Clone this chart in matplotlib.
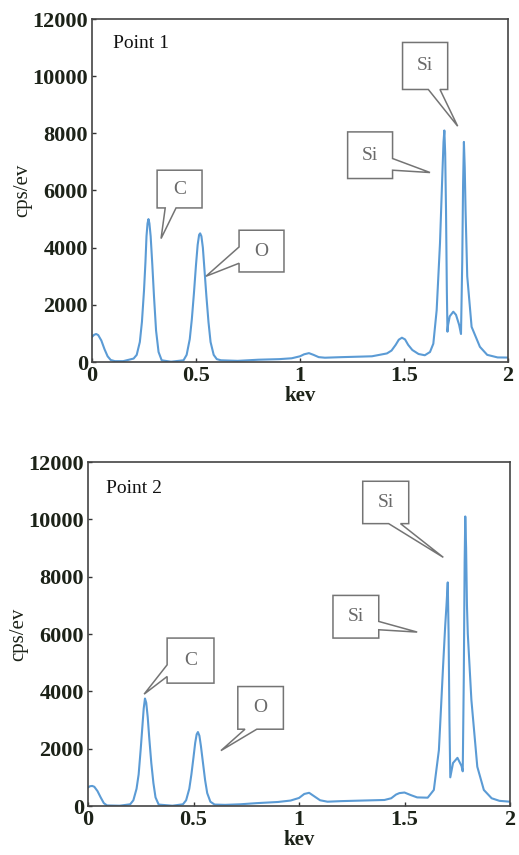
"""EDS spectra of two points: counts per eV vs energy, with peak callouts."""

import matplotlib

matplotlib.use("Agg")
import matplotlib.pyplot as plt
from matplotlib.patches import Polygon

plt.rcParams["font.family"] = ["Liberation Serif", "DejaVu Serif"]

# ---- data (keV, cps/eV) ----
kev_p1 = [0.00, 0.01, 0.02, 0.03, 0.045, 0.06, 0.075, 0.09, 0.11, 0.15, 0.20, 0.215,
          0.23, 0.24, 0.25, 0.257, 0.262, 0.267, 0.2715, 0.276, 0.282, 0.29, 0.298,
          0.308, 0.32, 0.335, 0.38, 0.44, 0.455, 0.47, 0.48, 0.49, 0.50, 0.508, 0.515,
          0.52, 0.526, 0.533, 0.54, 0.55, 0.56, 0.57, 0.585, 0.60, 0.62, 0.70, 0.80,
          0.90, 0.96, 1.00, 1.02, 1.043, 1.065, 1.09, 1.12, 1.20, 1.30, 1.346, 1.418,
          1.44, 1.46, 1.475, 1.49, 1.505, 1.52, 1.54, 1.57, 1.60, 1.625, 1.641, 1.657,
          1.673, 1.684, 1.690, 1.694, 1.698, 1.702, 1.706, 1.709, 1.712, 1.72, 1.737,
          1.75, 1.765, 1.774, 1.780, 1.784, 1.788, 1.792, 1.796, 1.804, 1.825, 1.865,
          1.90, 1.95, 2.00]
cps_p1 = [880, 950, 980, 940, 750, 450, 200, 70, 30, 30, 120, 250,
          700, 1400, 2500, 3500, 4400, 4850, 5000, 4850, 4400, 3400, 2300,
          1100, 350, 60, 10, 60, 250, 800, 1500, 2400, 3400, 4100, 4450,
          4500, 4400, 4000, 3300, 2300, 1400, 700, 250, 100, 60, 40, 80,
          100, 130, 200, 270, 310, 250, 170, 150, 170, 190, 200, 300,
          400, 600, 780, 850, 790, 600, 420, 280, 236, 350, 640, 1810,
          4150, 6475, 7700, 8100, 7300, 5300, 2500, 1060, 1300, 1600, 1760,
          1650, 1300, 980, 3500, 6200, 7700, 6800, 5300, 3000, 1230, 530,
          250, 160, 155]

kev_p2 = [0.00, 0.01, 0.02, 0.03, 0.045, 0.06, 0.075, 0.09, 0.15, 0.20, 0.215, 0.23,
          0.24, 0.25, 0.258, 0.264, 0.27, 0.276, 0.283, 0.29, 0.30, 0.31, 0.32, 0.335,
          0.40, 0.45, 0.465, 0.48, 0.49, 0.50, 0.508, 0.515, 0.521, 0.528, 0.535, 0.545,
          0.555, 0.565, 0.58, 0.60, 0.65, 0.722, 0.80, 0.90, 0.96, 1.00, 1.025, 1.048,
          1.07, 1.10, 1.135, 1.20, 1.30, 1.405, 1.437, 1.46, 1.476, 1.50, 1.53, 1.56,
          1.61, 1.639, 1.663, 1.671, 1.683, 1.693, 1.699, 1.705, 1.709, 1.713, 1.717,
          1.73, 1.751, 1.77, 1.776, 1.781, 1.785, 1.788, 1.792, 1.796, 1.80, 1.817,
          1.845, 1.876, 1.913, 1.95, 2.00]
cps_p2 = [650, 690, 700, 670, 520, 300, 100, 20, 10, 60, 200, 600,
          1100, 2000, 2800, 3400, 3750, 3600, 3100, 2400, 1500, 800, 300, 50,
          10, 60, 200, 600, 1100, 1700, 2200, 2500, 2580, 2450, 2100, 1500,
          900, 450, 150, 50, 40, 60, 100, 140, 190, 280, 420, 460,
          350, 200, 150, 170, 190, 210, 270, 400, 450, 470, 380, 300,
          290, 560, 1950, 3120, 4900, 6300, 7000, 7800, 6000, 3000, 1000,
          1500, 1680, 1400, 1210, 4500, 8500, 10100, 9000, 7000, 6000, 3700,
          1370, 560, 270, 180, 150]

# callouts: label, box (x0, x1, y0, y1), tail side, tail base (two coords along side), tip
callouts_p1 = [
    ("C", (0.313, 0.529, 5390, 6710), "bottom", (0.352, 0.404), (0.332, 4319)),
    ("O", (0.707, 0.923, 3150, 4610), "left", (4025, 3455), (0.548, 3000)),
    ("Si", (1.493, 1.710, 9534, 11179), "bottom", (1.617, 1.673), (1.758, 8250)),
    ("Si", (1.229, 1.445, 6419, 8050), "right", (7119, 6710), (1.625, 6629)),
]
callouts_p2 = [
    ("C", (0.375, 0.597, 4286, 5858), "left", (4925, 4517), (0.266, 3902)),
    ("O", (0.710, 0.926, 2679, 4167), "bottom", (0.744, 0.800), (0.630, 1932)),
    ("Si", (1.302, 1.520, 9850, 11328), "bottom", (1.425, 1.481), (1.684, 8673)),
    ("Si", (1.161, 1.378, 5858, 7346), "right", (6438, 6148), (1.560, 6067)),
]

LINE = "#5b9bd5"
BOX = "#747474"
INK = "#1c2218"


def callout_shape(box, side, base, tip):
    x0, x1, y0, y1 = box
    a, b = base
    if side == "bottom":
        return [(x0, y0), (a, y0), tip, (b, y0), (x1, y0), (x1, y1), (x0, y1)]
    if side == "left":
        return [(x0, y1), (x0, a), tip, (x0, b), (x0, y0), (x1, y0), (x1, y1)]
    return [(x1, y0), (x1, b), tip, (x1, a), (x1, y1), (x0, y1), (x0, y0)]


def draw_panel(ax, kev, cps, callouts, name, name_pos):
    ax.plot(kev, cps, color=LINE, lw=1.5, zorder=2, solid_joinstyle="round")
    ax.set_xlim(0, 2)
    ax.set_ylim(0, 12000)
    ax.set_xticks([0, 0.5, 1, 1.5, 2], labels=["0", "0.5", "1", "1.5", "2"])
    ax.set_yticks(range(0, 12001, 2000))
    ax.tick_params(direction="in", length=3, width=1, color="#333",
                   labelsize=16, labelcolor=INK, pad=3)
    for lab in ax.get_xticklabels() + ax.get_yticklabels():
        lab.set_fontweight("bold")
    for s in ax.spines.values():
        s.set_color("#444")
        s.set_linewidth(1.2)
    ax.set_xlabel("kev", fontsize=15, fontweight="bold", color=INK, labelpad=0)
    ax.set_ylabel("cps/ev", fontsize=15, color=INK, labelpad=0)
    ax.text(name_pos[0], name_pos[1], name, fontsize=14, color="#111", va="baseline")
    for label, box, side, base, tip in callouts:
        poly = Polygon(callout_shape(box, side, base, tip), closed=True,
                       facecolor="white", edgecolor=BOX, lw=1.1, zorder=3)
        ax.add_patch(poly)
        ax.text((box[0] + box[1]) / 2, (box[2] + box[3]) / 2, label, fontsize=14,
                color="#6a6a6a", ha="center", va="center", zorder=4)


fig = plt.figure(figsize=(5.19, 8.55), dpi=100)
W, H = 519, 855
ax1 = fig.add_axes([92 / W, (H - 362) / H, 416 / W, 343 / H])
ax2 = fig.add_axes([88 / W, (H - 806) / H, 422 / W, 344 / H])

draw_panel(ax1, kev_p1, cps_p1, callouts_p1, "Point 1", (0.10, 10980))
draw_panel(ax2, kev_p2, cps_p2, callouts_p2, "Point 2", (0.087, 10920))

fig.savefig("out.png", dpi=100)
